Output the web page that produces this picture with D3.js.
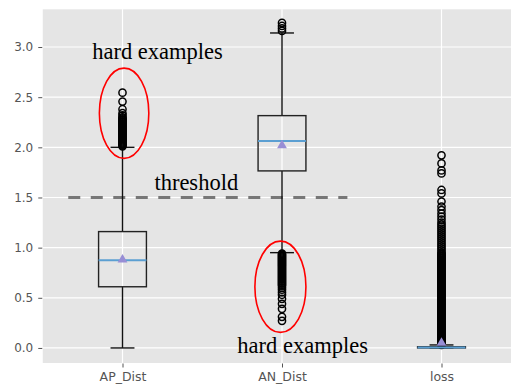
<!DOCTYPE html>
<html>
  <head>
    <meta charset="utf-8">
    <title>box plot</title>
    <script src="https://d3js.org/d3.v7.min.js"></script>
    <style>
      body { margin: 0; background: #fff; }
      svg { display: block; }
      .tick text { font-family: "DejaVu Sans", sans-serif; fill: #555; }
      .tick line { stroke: #555; }
      .note { font-family: "Liberation Serif", "Times New Roman", serif; font-size: 22.5px; fill: #000; }
    </style>
  </head>
  <body>
    <svg id="svg"></svg>
    <script>
// values
const categories = ["AP_Dist", "AN_Dist", "loss"];
const whiskerLow = [0.0, 0.95, 0.0];
const q1 = [0.61, 1.765, 0.0];
const medians = [0.875, 2.064, 0.005];
const q3 = [1.16, 2.316, 0.012];
const whiskerHigh = [2.0, 3.14, 0.03];
const means = [0.88, 2.02, 0.05];

const apOutliers = [2.545, 2.456, 2.38, 2.34, 2.32, 2.30, 2.29, 2.28, 2.27, 2.26, 2.25, 2.24,
  2.23, 2.22, 2.21, 2.20, 2.19, 2.18, 2.17, 2.16, 2.15, 2.14, 2.13, 2.12, 2.11, 2.10, 2.09,
  2.08, 2.07, 2.06, 2.05, 2.04, 2.03, 2.02, 2.01];
const anOutliers = [3.24, 3.21, 3.185, 3.16,
  0.94, 0.93, 0.92, 0.91, 0.90, 0.89, 0.88, 0.87, 0.86, 0.85, 0.84, 0.83, 0.82, 0.81, 0.80,
  0.79, 0.78, 0.77, 0.76, 0.75, 0.74, 0.73, 0.72, 0.71, 0.70, 0.69, 0.68, 0.67, 0.66, 0.65,
  0.64, 0.63, 0.62, 0.60, 0.58, 0.555, 0.53, 0.49, 0.44, 0.39, 0.31, 0.27];
const lossOutliers = [1.92, 1.84, 1.77, 1.74, 1.575, 1.54, 1.46, 1.41, 1.375, 1.34, 1.31, 1.28,
  1.25, 1.23, 1.21, 1.19, 1.17, 1.15, 1.13, 1.11, 1.09, 1.07, 1.05, 1.03, 1.01, 0.99, 0.97,
  0.95, 0.94, 0.93, 0.92, 0.91, 0.90, 0.89, 0.88, 0.87, 0.86, 0.85, 0.84, 0.83, 0.82, 0.81,
  0.80, 0.79, 0.78, 0.77, 0.76, 0.75, 0.74, 0.73, 0.72, 0.71, 0.70, 0.69, 0.68, 0.67, 0.66,
  0.65, 0.64, 0.63, 0.62, 0.61, 0.60, 0.59, 0.58, 0.57, 0.56, 0.55, 0.54, 0.53, 0.52, 0.51,
  0.50, 0.49, 0.48, 0.47, 0.46, 0.45, 0.44, 0.43, 0.42, 0.41, 0.40, 0.39, 0.38, 0.37, 0.36,
  0.35, 0.34, 0.33, 0.32, 0.31, 0.30, 0.29, 0.28, 0.27, 0.26, 0.25, 0.24, 0.23, 0.22, 0.21,
  0.20, 0.19, 0.18, 0.17, 0.16, 0.15, 0.14, 0.13, 0.12, 0.11, 0.10, 0.09, 0.08, 0.07, 0.06,
  0.05, 0.04, 0.03];
const outliers = [apOutliers, anOutliers, lossOutliers];

const yTicks = [0, 0.5, 1.0, 1.5, 2.0, 2.5, 3.0];

const threshold = 1.5;
const thresholdFrom = 0.66, thresholdTo = 2.41;

const noteText = ["hard examples", "threshold", "hard examples"];
const noteX = [0.81, 1.2, 1.72];
const noteY = [2.88, 1.575, -0.05];

const ringX = [1.01, 1.99];
const ringY = [2.34, 0.61];
const ringHalfW = [0.155, 0.16];
const ringHalfH = [0.45, 0.455];

const W = 511, H = 388;
const svg = d3.select("#svg").attr("width", W).attr("height", H);

const x = d3.scaleLinear().domain([0.5, 3.5]).range([42.75, 521.25]);
const y = d3.scaleLinear().domain([-0.15, 3.376]).range([363, 9.3]);

svg.append("rect")
  .attr("x", x(0.5)).attr("y", y(3.376))
  .attr("width", x(3.5) - x(0.5)).attr("height", y(-0.15) - y(3.376))
  .attr("fill", "#E5E5E5");

// grid
svg.selectAll(".hgrid").data(yTicks).enter().append("line")
  .attr("x1", x(0.5)).attr("x2", x(3.5))
  .attr("y1", d => y(d)).attr("y2", d => y(d))
  .attr("stroke", "#fff").attr("stroke-width", 1.2);
svg.selectAll(".vgrid").data(categories).enter().append("line")
  .attr("x1", (d, i) => x(i + 1)).attr("x2", (d, i) => x(i + 1))
  .attr("y1", y(3.376)).attr("y2", y(-0.15))
  .attr("stroke", "#fff").attr("stroke-width", 1.2);

// axes
const yAxis = svg.append("g").attr("transform", `translate(${x(0.5) - 0.5},0)`)
  .call(d3.axisLeft(y).tickValues(yTicks).tickFormat(d3.format(".1f")).tickSize(4).tickPadding(5));
yAxis.select(".domain").remove();
yAxis.selectAll("text").style("font-size", "12px");

const xAxis = svg.append("g").attr("transform", `translate(0,${y(-0.15) + 0.5})`)
  .call(d3.axisBottom(x).tickValues([1, 2, 3]).tickFormat(d => categories[d - 1]).tickSize(4).tickPadding(5));
xAxis.select(".domain").remove();
xAxis.selectAll("text").style("font-size", "12.5px");

// threshold
svg.append("line")
  .attr("x1", x(thresholdFrom)).attr("x2", x(thresholdTo))
  .attr("y1", y(threshold)).attr("y2", y(threshold))
  .attr("stroke", "#777").attr("stroke-width", 3)
  .attr("stroke-dasharray", "12,10.5");

const boxW = 0.3;
const g = svg.selectAll(".box").data(categories).enter().append("g");

// whiskers
g.append("line")
  .attr("x1", (d, i) => x(i + 1)).attr("x2", (d, i) => x(i + 1))
  .attr("y1", (d, i) => y(q3[i])).attr("y2", (d, i) => y(whiskerHigh[i]))
  .attr("stroke", "#111").attr("stroke-width", 1.4);
g.append("line")
  .attr("x1", (d, i) => x(i + 1)).attr("x2", (d, i) => x(i + 1))
  .attr("y1", (d, i) => y(q1[i])).attr("y2", (d, i) => y(whiskerLow[i]))
  .attr("stroke", "#111").attr("stroke-width", 1.4);
// caps
[whiskerHigh, whiskerLow].forEach(arr => {
  g.append("line")
    .attr("x1", (d, i) => x(i + 1 - boxW / 4)).attr("x2", (d, i) => x(i + 1 + boxW / 4))
    .attr("y1", (d, i) => y(arr[i])).attr("y2", (d, i) => y(arr[i]))
    .attr("stroke", "#111").attr("stroke-width", 1.4);
});
// box
g.append("rect")
  .attr("x", (d, i) => x(i + 1 - boxW / 2))
  .attr("width", x(1 + boxW) - x(1))
  .attr("y", (d, i) => y(q3[i]))
  .attr("height", (d, i) => Math.max(0.5, y(q1[i]) - y(q3[i])))
  .attr("fill", "none").attr("stroke", "#222").attr("stroke-width", 1.4);

// outliers
g.each(function(d, i) {
  d3.select(this).selectAll("circle").data(outliers[i]).enter().append("circle")
    .attr("cx", x(i + 1)).attr("cy", v => y(v)).attr("r", 3.6)
    .attr("fill", "none").attr("stroke", "#000").attr("stroke-width", 1.5);
});

// medians
g.append("line")
  .attr("x1", (d, i) => x(i + 1 - boxW / 2)).attr("x2", (d, i) => x(i + 1 + boxW / 2))
  .attr("y1", (d, i) => y(medians[i])).attr("y2", (d, i) => y(medians[i]))
  .attr("stroke", "#5b9fd2").attr("stroke-width", 2);

// means
g.append("path")
  .attr("d", d3.symbol().type(d3.symbolTriangle).size(42))
  .attr("transform", (d, i) => `translate(${x(i + 1)},${y(means[i])})`)
  .attr("fill", "#988ED5");

// red rings
svg.selectAll(".ring").data(ringX).enter().append("ellipse")
  .attr("cx", d => x(d)).attr("cy", (d, i) => y(ringY[i]))
  .attr("rx", (d, i) => x(1 + ringHalfW[i]) - x(1))
  .attr("ry", (d, i) => y(0) - y(ringHalfH[i]))
  .attr("fill", "none").attr("stroke", "#f00").attr("stroke-width", 1.6);

// notes
svg.selectAll(".note").data(noteText).enter().append("text")
  .attr("class", "note")
  .attr("x", (d, i) => x(noteX[i])).attr("y", (d, i) => y(noteY[i]))
  .text(d => d);
    </script>
  </body>
</html>
